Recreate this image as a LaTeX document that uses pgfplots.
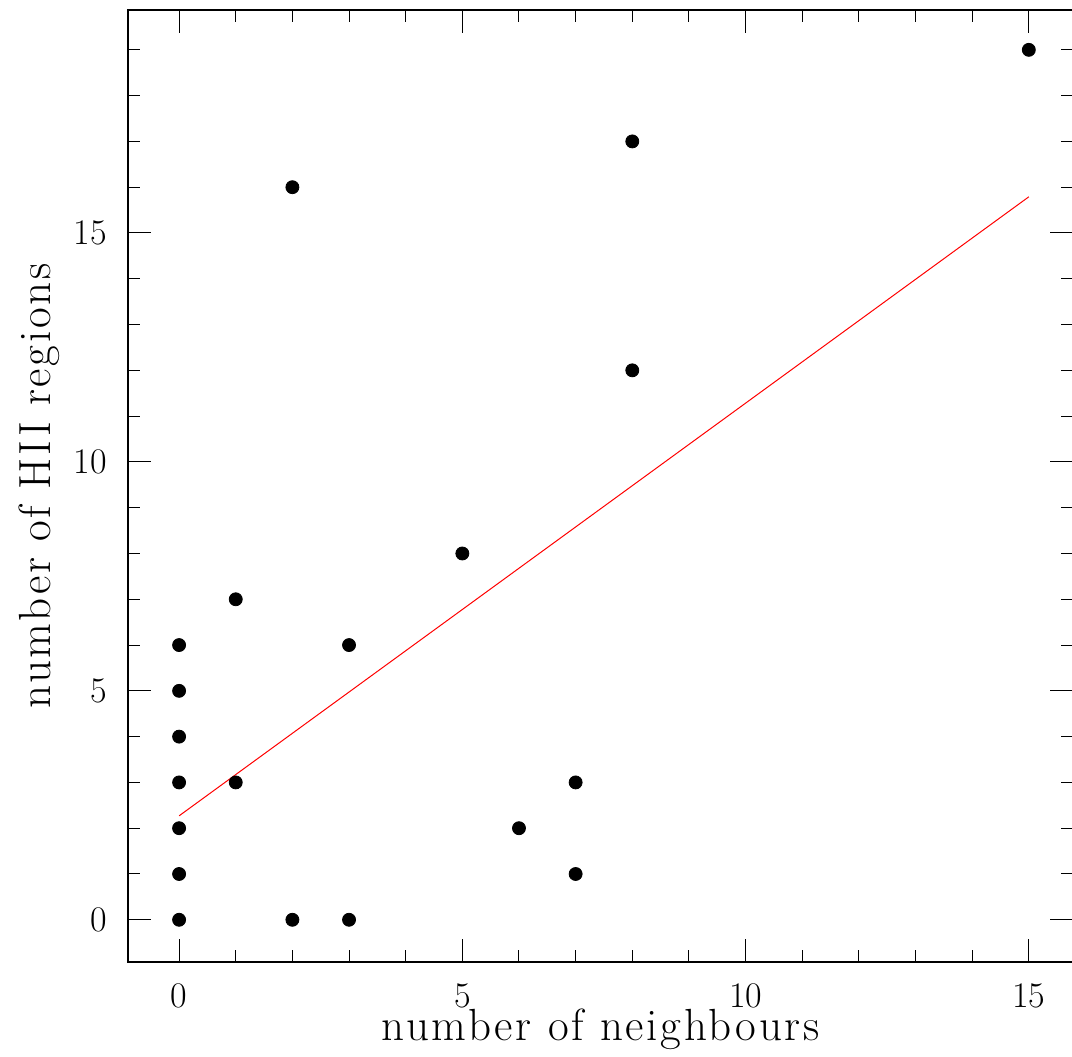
\documentclass[border=0pt]{standalone}
\usepackage{fontspec}
\usepackage{pgfplots}
\pgfplotsset{compat=1.18}

% slightly tracked face for the axis titles
\newfontfamily\labelfont{Latin Modern Roman}[LetterSpace=6]

% neighbours vs. HII regions
\pgfplotstableread{
x y
0 0
0 1
0 2
0 3
0 4
0 5
0 6
1 3
1 7
2 0
2 16
3 0
3 6
5 8
6 2
7 1
7 3
8 12
8 17
15 19
}\hiidata

\begin{document}
\fontsize{18}{22}\selectfont
\begin{tikzpicture}
\begin{axis}[
  scale only axis,
  width=472pt, height=475.5pt,
  xmin=-0.9, xmax=15.78,
  ymin=-0.92, ymax=19.87,
  axis line style={line width=0.8pt},
  xtick={0,5,10,15}, ytick={0,5,10,15},
  minor xtick={1,2,3,4,6,7,8,9,11,12,13,14},
  minor ytick={1,2,3,4,6,7,8,9,11,12,13,14,16,17,18,19},
  tick align=inside,
  tick pos=both,
  major tick length=11.5pt,
  minor tick length=6pt,
  tick style={line width=0.5pt, black},
  /pgf/number format/assume math mode=true,
  tick label style={font=\fontsize{18}{22}\selectfont},
  xticklabel style={inner sep=0pt, yshift=-10.5pt},
  yticklabel style={inner sep=0pt, xshift=-10.5pt},
  xlabel={number of neighbours},
  ylabel={number of HII regions},
  label style={font=\labelfont\fontsize{22.5}{27}\selectfont, inner sep=0pt},
  xlabel style={at={([yshift=-39.5pt]axis description cs:0.5,0)}, anchor=base},
  ylabel style={at={([xshift=-39pt]axis description cs:0,0.5)}, anchor=base},
  clip=false,
]
\addplot[red, line width=0.5pt] coordinates {(0,2.27) (15,15.79)};
\addplot[only marks, mark=*, mark size=3.25pt, black] table[x=x, y=y] {\hiidata};
\end{axis}
\pgfresetboundingbox
\path[use as bounding box] ([xshift=-64pt,yshift=-47.5pt]current axis.south west) rectangle ([xshift=-0.5pt,yshift=5pt]current axis.north east);
\end{tikzpicture}
\end{document}
